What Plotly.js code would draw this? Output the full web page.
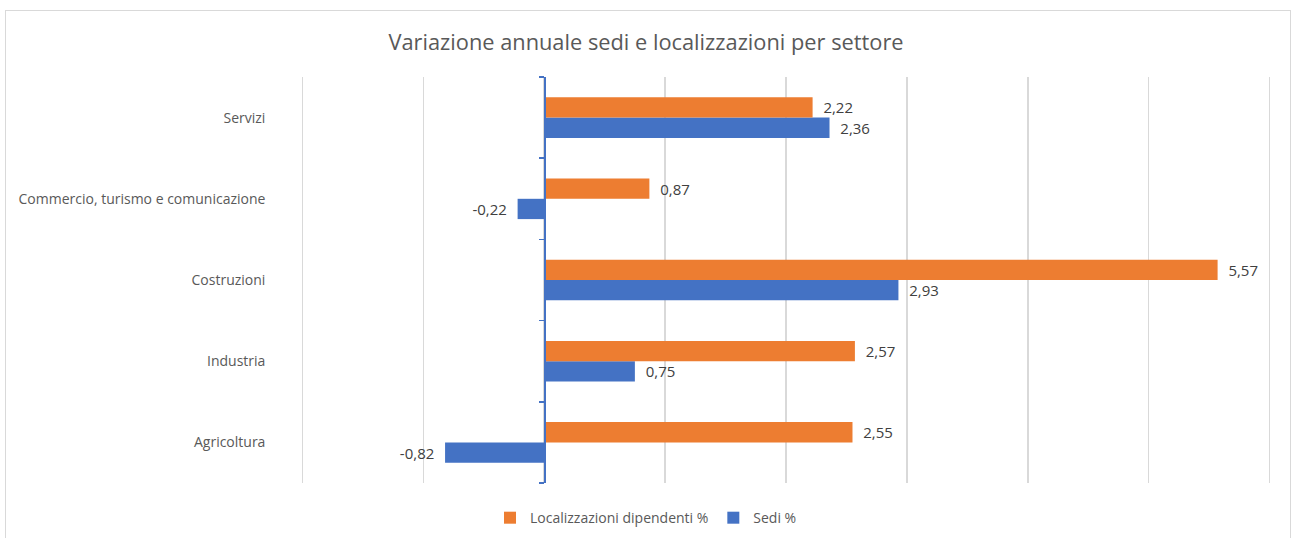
<!DOCTYPE html>
<html>
<head>
<meta charset="utf-8">
<script src="https://cdn.plot.ly/plotly-3.0.1.min.js"></script>
<style>
html,body{margin:0;padding:0;background:#fff;overflow:hidden;}
#chart{position:absolute;left:0;top:0;width:1292px;height:538px;}
#frame{position:absolute;left:5px;top:10px;width:1284px;height:560px;border:1px solid #D9D9D9;pointer-events:none;}
</style>
</head>
<body>
<div id="chart"></div>
<div id="frame"></div>
<script>
// Categories listed bottom to top
const categories = ["Agricoltura", "Industria", "Costruzioni", "Commercio, turismo e comunicazione", "Servizi"];
const localizzazioni = [2.55, 2.57, 5.57, 0.87, 2.22];
const sedi = [-0.82, 0.75, 2.93, -0.22, 2.36];
const seriesNames = ["Localizzazioni dipendenti %", "Sedi %"];
const chartTitle = "Variazione annuale sedi e localizzazioni per settore";
const xMin = -2.02, xMax = 6.02;

const NB = "\u00A0";
function fmt(v){
  const s = v.toFixed(2).replace(".", ",");
  return v < 0 ? s + NB + NB : NB + NB + s;
}

const font = "'Open Sans', 'Noto Sans', sans-serif";
const labelFont = {family: font, size: 15, color: "#404040"};

const traces = [
  {
    type: "bar", orientation: "h", name: seriesNames[1],
    y: categories, x: sedi, text: sedi.map(fmt),
    textposition: "outside", textfont: labelFont, cliponaxis: false, constraintext: "none",
    marker: {color: "#4472C4", line: {width: 0}}, hoverinfo: "x+y"
  },
  {
    type: "bar", orientation: "h", name: seriesNames[0],
    y: categories, x: localizzazioni, text: localizzazioni.map(fmt),
    textposition: "outside", textfont: labelFont, cliponaxis: false, constraintext: "none",
    marker: {color: "#ED7D31", line: {width: 0}}, hoverinfo: "x+y"
  }
];

const layout = {
  width: 1292, height: 538,
  margin: {l: 299.5, r: 19.7, t: 77, b: 55},
  paper_bgcolor: "#fff", plot_bgcolor: "#fff",
  font: {family: font, size: 14, color: "#595959"},
  title: {text: chartTitle, font: {family: font, size: 21.8, color: "#595959"},
          x: 0.5, xref: "container", xanchor: "center", y: 0.922, yref: "container", yanchor: "middle"},
  barmode: "group", bargap: 0.5, bargroupgap: 0,
  xaxis: {
    range: [xMin, xMax], dtick: 1, tick0: 0, showticklabels: false,
    showgrid: true, gridcolor: "#D9D9D9", gridwidth: 1.5,
    zeroline: false, showline: false, ticks: "", fixedrange: true
  },
  yaxis: {
    type: "category", categoryarray: categories, categoryorder: "array",
    anchor: "free", position: (0 - xMin) / (xMax - xMin), side: "left",
    showline: true, linecolor: "#4472C4", linewidth: 1.5,
    ticks: "outside", tickson: "boundaries", ticklen: 5, tickcolor: "#4472C4", tickwidth: 1.5,
    showgrid: false, zeroline: false,
    ticklabelstandoff: 276,
    tickfont: {family: font, size: 14, color: "#595959"},
    fixedrange: true
  },
  showlegend: true,
  legend: {
    orientation: "h", traceorder: "reversed",
    x: 0.5, xref: "container", xanchor: "center",
    y: 0.037, yref: "container", yanchor: "middle",
    font: {family: font, size: 14, color: "#595959"},
    itemwidth: 30
  }
};

Plotly.newPlot("chart", traces, layout, {displayModeBar: false, staticPlot: true});
</script>
</body>
</html>
